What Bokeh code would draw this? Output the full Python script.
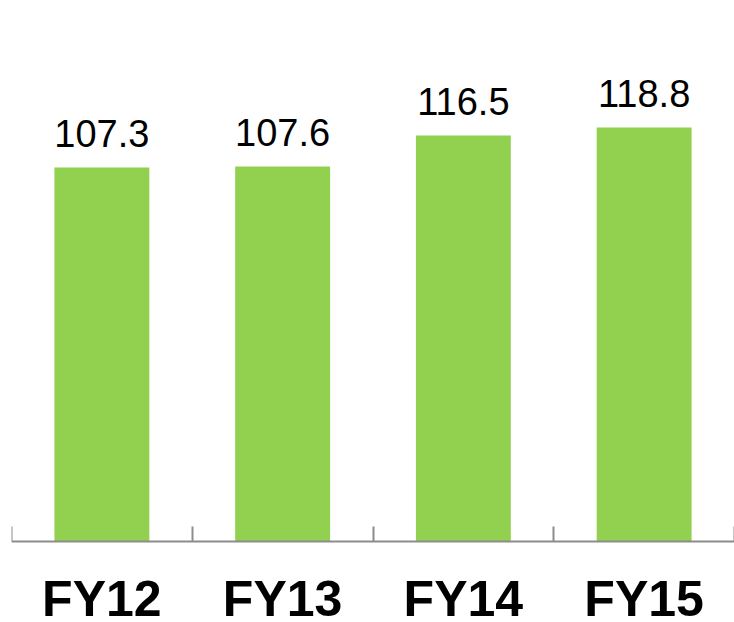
from bokeh.plotting import figure
from bokeh.models import Range1d, LinearAxis, FixedTicker, ColumnDataSource
from bokeh.core.properties import value
from bokeh.embed import file_html
from bokeh.resources import INLINE

categories = ["FY12", "FY13", "FY14", "FY15"]
values = [107.3, 107.6, 116.5, 118.8]
labels = ["107.3", "107.6", "116.5", "118.8"]

xs = [i + 0.5 for i in range(len(categories))]
base = [0] * len(categories)
src = ColumnDataSource(data=dict(x=xs, cat=categories, val=values, lab=labels, base=base))

p = figure(x_range=Range1d(0, len(categories)), y_range=Range1d(-23.24, 146.63),
           width=734, height=622,
           output_backend="svg", toolbar_location=None,
           x_axis_location=None, y_axis_location=None,
           min_border_left=11, min_border_right=0, min_border_top=30, min_border_bottom=0)
p.outline_line_color = None
p.grid.visible = False
p.background_fill_color = "white"
p.border_fill_color = "white"

p.vbar(x="x", top="val", width=0.525, bottom=0, source=src,
       fill_color="#92D050", line_color=None)

p.text(x="x", y="val", text="lab", source=src, text_align="center",
       text_baseline="alphabetic", y_offset=-34,
       text_font=value("Liberation Sans"), text_font_size="38px", text_color="black")

p.text(x="x", y="base", text="cat", source=src, text_align="center",
       text_baseline="alphabetic", y_offset=57,
       text_font=value("Liberation Sans"), text_font_size="50px",
       text_font_style="bold", text_color="black")

tick_axis = LinearAxis(ticker=FixedTicker(ticks=list(range(len(categories) + 1))),
                       fixed_location=0,
                       major_label_text_font_size="0px", major_label_standoff=0,
                       axis_line_color="#8C8C8C", axis_line_width=2,
                       major_tick_line_color="#8C8C8C", major_tick_line_width=2,
                       major_tick_in=0, major_tick_out=15,
                       minor_tick_line_color=None)
tick_axis.major_label_text_color = None
p.add_layout(tick_axis, "above")

open("out.html", "w").write(file_html(p, INLINE))
